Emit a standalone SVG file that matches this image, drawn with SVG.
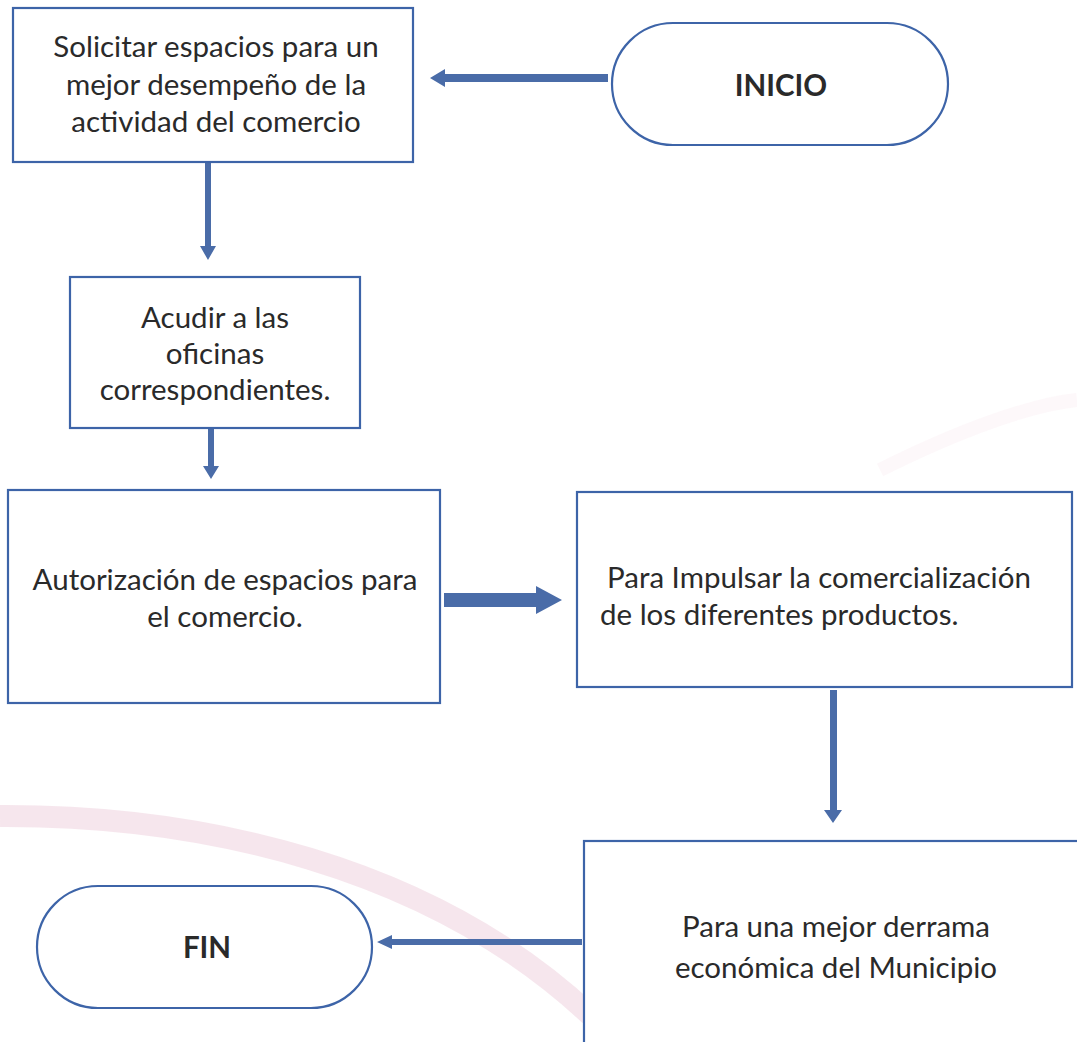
<svg xmlns="http://www.w3.org/2000/svg" width="1077" height="1042" viewBox="0 0 1077 1042">
<style>
.box{fill:#fff;stroke:#3d64a8;stroke-width:2.2}
.t{font-family:Lato,"Liberation Sans",sans-serif;font-size:29.5px;fill:#2a2a2a;text-anchor:middle}
.b{font-weight:bold}
.ar{fill:#4a6ca8}
</style>
<rect width="1077" height="1042" fill="#fff"/>
<path d="M0,816 C200,815 430,865 590,1015" fill="none" stroke="#e6b8cb" stroke-width="22" opacity="0.35"/>
<path d="M880,470 C960,430 1030,405 1077,400" fill="none" stroke="#f0d3de" stroke-width="14" opacity="0.15"/>
<g id="connectors">
<polygon class="ar" points="608,74 445,74 445,69 430,78 445,87 445,82 608,82"/>
<polygon class="ar" points="205,162 211,162 211,246 216,246 208,260 200,246 205,246"/>
<polygon class="ar" points="208,428 214,428 214,466 219,466 211,479 203,466 208,466"/>
<polygon class="ar" points="444,593 536,593 536,586 562,600 536,614 536,607 444,607"/>
<polygon class="ar" points="830,690 837,690 837,810 842,810 833,823 824,810 830,810"/>
<polygon class="ar" points="582,939 392,939 392,935 377,942 392,949 392,945 582,945"/>
</g>
<g id="n1"><rect class="box" x="13" y="8" width="400" height="154"/>
<text class="t" x="216" y="57">Solicitar espacios para un</text>
<text class="t" x="216" y="95">mejor desempeño de la</text>
<text class="t" x="216" y="132">actividad del comercio</text></g>
<g id="inicio"><rect class="box" x="612" y="23" width="336" height="122" rx="61"/>
<text class="t b" x="781" y="96">INICIO</text></g>
<g id="n2"><rect class="box" x="70" y="277" width="290" height="151"/>
<text class="t" x="215" y="328">Acudir a las</text>
<text class="t" x="215" y="364">oficinas</text>
<text class="t" x="215" y="400">correspondientes.</text></g>
<g id="n3"><rect class="box" x="8" y="490" width="432" height="213"/>
<text class="t" x="225" y="590">Autorización de espacios para</text>
<text class="t" x="225" y="627">el comercio.</text></g>
<g id="n4"><rect class="box" x="577" y="492" width="495" height="195"/>
<text class="t" x="607" y="588" style="text-anchor:start">Para Impulsar la comercialización</text>
<text class="t" x="600" y="625" style="text-anchor:start">de los diferentes productos.</text></g>
<g id="n5"><rect class="box" x="584" y="841" width="500" height="210"/>
<text class="t" x="836" y="937">Para una mejor derrama</text>
<text class="t" x="836" y="978">económica del Municipio</text></g>
<g id="fin"><rect class="box" x="37" y="886" width="335" height="122" rx="61"/>
<text class="t b" x="207" y="958">FIN</text></g>
</svg>
